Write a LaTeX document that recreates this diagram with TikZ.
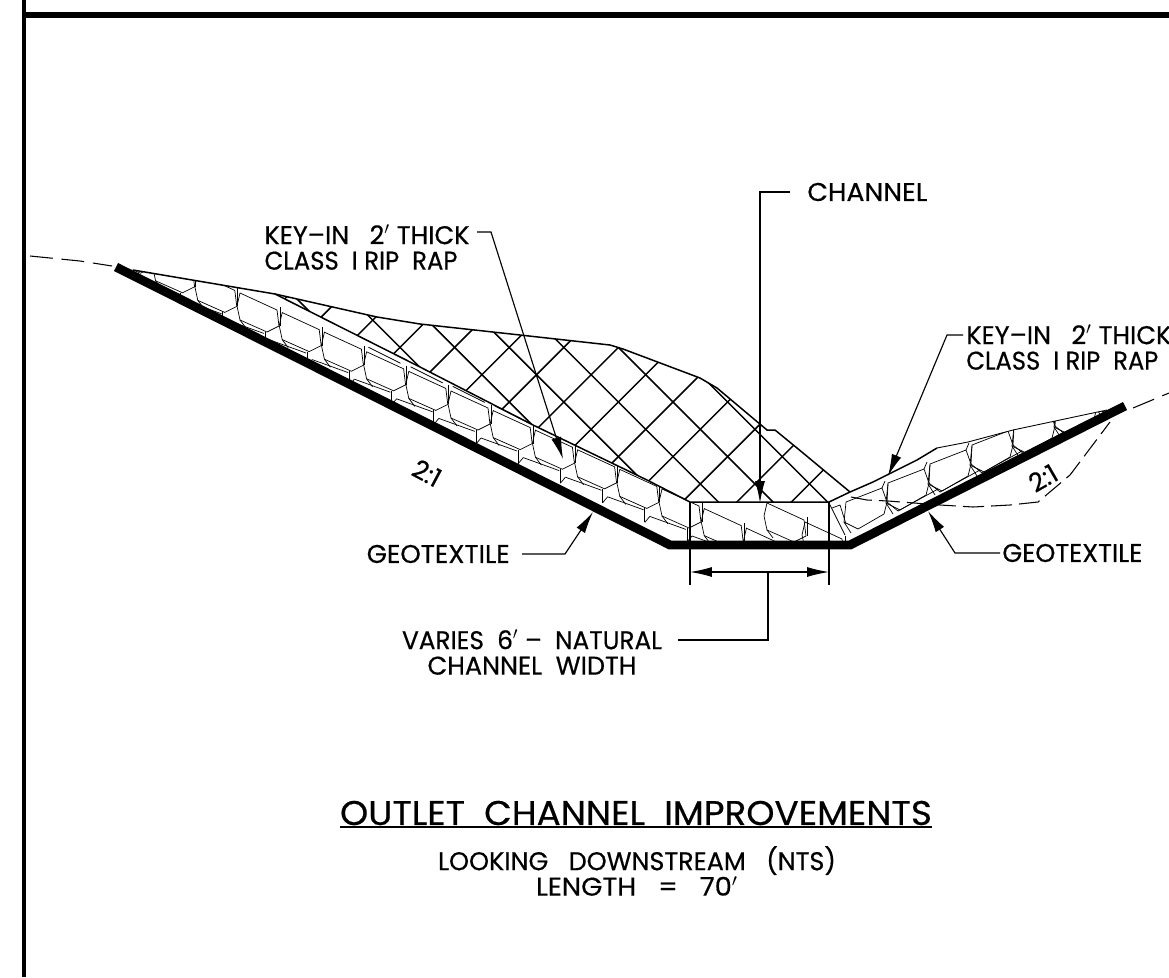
\documentclass[tikz,border=0pt]{standalone}
\usepackage{fontspec}
\setmainfont{Poppins}[FakeBold=0.5]
\usetikzlibrary{arrows.meta, positioning}
\newlength\pxu
\setlength\pxu{0.569pt}
\newcommand{\fitw}[2]{\resizebox{#1\pxu}{\height}{#2}}
\tikzset{
  lbl/.style={font=\fontsize{14.6}{14.5}\selectfont, align=center, inner sep=0pt},
  ttl/.style={font=\fontsize{19.5}{20}\selectfont, inner sep=0pt},
  ldr/.style={line width=0.65pt},
  ptr/.style={line width=0.65pt, -{Latex[length=12.5pt,width=5.7pt]}},
  rock/.style={line width=0.4pt},
  hatchln/.style={line width=0.85pt},
  stoneL/.pic={
    \draw [rock] (0,0) -- (37,17) -- (39,33) -- (27,39) -- (0,27) -- (-3,13) -- cycle;
    \draw [rock] (40,33) -- (40,14);
    \draw [rock] (0,27) -- (6,35);
    \draw [rock] (30,47) -- (66,60);
    \draw [rock] (30,47) -- (25,53);
    \draw [rock] (25,39) -- (25,53);
  },
  stoneR/.pic={
    \draw [rock] (0,0) -- (36,-14) -- (41,0) -- (38,12) -- (12,27) -- (-2,20) -- cycle;
    \draw [rock] (36,-14) -- (39,-21);
    \draw [rock] (41,0) -- (42,-18);
    \draw [rock] (41,0) -- (52,9) -- (92,-13);
    \draw [rock] (-2,20) -- (5,31);
  }
}
\begin{document}
\begin{tikzpicture}[x=0.02cm,y=-0.02cm]
\useasboundingbox (0,0) rectangle (1169,977);
% frame
\fill (22,0) rectangle (26,977);
\fill (22,12) rectangle (1169,18);
% ground
\draw [dash pattern=on 13pt off 5pt, line width=0.6pt] (30,256) -- (80,261) -- (112,266);
\draw [dash pattern=on 13pt off 5pt, line width=0.6pt] (1133,408) -- (1169,393);
\draw [dash pattern=on 12pt off 4pt, line width=0.6pt] (851,497) -- (867,500) -- (888,501) -- (940,505) -- (973,507) -- (1010,505) -- (1038,502) -- (1070,475) -- (1110,422);
% rip rap
\begin{scope}
\clip (118,265) -- (133,270) -- (275,294) -- (420,367) -- (533,425) -- (647,480) -- (690,502) -- (829,502) -- (850,492) -- (873,482) -- (917,460) -- (937,448) -- (968,442) -- (1013,430) -- (1107,410) -- (1125,406) -- (850,545) -- (670,545) -- cycle;
\foreach \k in {-3,...,12}
  \pic at ({240+42.2*\k},{293+19.6*\k}) {stoneL};
\foreach \k in {2,...,9}
  \draw [rock] ({240+42.2*\k+44},{293+19.6*\k+15}) -- ++(32,16);
\pic at (767,503) {stoneL};
\pic at (805,522) {stoneL};
\foreach \k in {0,...,6}
  \pic at ({846+42*\k},{502-19*\k}) {stoneR};
\end{scope}
\draw [rock] (829,503) -- (845,535);
\draw [rock] (832,508) -- (840,505) -- (846,524);
% hatch
\begin{scope}
\clip (275,294) -- (377,317) -- (420,324) -- (520,335) -- (610,345) -- (623,349) -- (700,378) -- (717,388) -- (767,430) -- (775,430) -- (797,448) -- (850,492) -- (829,502) -- (690,502) -- (647,480) -- (533,425) -- (420,367) -- cycle;
\foreach \k in {-5,...,9}
  \draw [hatchln] (200,{200-271+54.6*\k}) -- ++(700,700);
\foreach \k in {-10,...,6}
  \draw [hatchln] (1000,{1075+54.6*\k-1000}) -- ++(-800,800);
\end{scope}
\draw [line width=0.85pt] (133,270) -- (275,294) -- (377,317) -- (420,324) -- (520,335) -- (610,345) -- (623,349) -- (700,378) -- (717,388) -- (767,430) -- (775,430) -- (797,448) -- (850,492);
\draw [line width=0.85pt] (275,294) -- (420,367) -- (533,425) -- (647,480) -- (690,502) -- (829,502) -- (850,492) -- (873,482) -- (917,460) -- (937,448);
\draw [line width=0.5pt] (937,448) -- (968,442) -- (1013,430) -- (1107,410);
% geotextile
\draw [line width=5.1pt] (116,267) -- (670,545) -- (850,545) -- (1125,406);
% labels
\node [lbl, align=left] (keyleft) at (367,247.5) {\fitw{205}{KEY--IN~~~2$'$ THICK}\\\fitw{193}{CLASS~~I RIP~~RAP}};
\node [lbl, align=left, anchor=west] (keyright) at (966,347.5) {\fitw{205}{KEY--IN~~~2$'$ THICK}\\\fitw{192}{CLASS~~I RIP~~RAP}};
\node [lbl, anchor=west] (chan) at (807,192) {\fitw{120}{CHANNEL}};
\node [lbl, anchor=east] (geoleft) at (510,554) {\fitw{143}{GEOTEXTILE}};
\node [lbl, anchor=west] (georight) at (1002,553) {\fitw{140}{GEOTEXTILE}};
\node [lbl] (varies) at (532,652.5) {\fitw{260}{VARIES~~6$'$ -- ~NATURAL}\\\fitw{209}{CHANNEL~~WIDTH}};
\node [lbl, rotate=-28] (slopeleft) at (427,473) {2:1};
\node [lbl, rotate=30] (sloperight) at (1043,478) {2:1};
\node [ttl] (outlet) at (636,813) {\fitw{592}{OUTLET~~CHANNEL~~IMPROVEMENTS}};
\draw [line width=1.1pt] (340,827) -- (932,827);
\node [lbl] (looking) at (637,871) {\fitw{398}{LOOKING~~~DOWNSTREAM~~~(NTS)}\\\fitw{202}{LENGTH~~~=~~~70$'$}};
% leaders
\coordinate (tipkeyl) at (563,459);
\coordinate (tipkeyr) at (888,476);
\coordinate (tipchan) at (760,503);
\coordinate (tipgeol) at (593,512);
\coordinate (tipgeor) at (928,511);
\draw [ptr] (477,232) -- (491,232) -- (tipkeyl);
\draw [ptr] (963,335) -- (947,335) -- (tipkeyr);
\draw [ptr] (chan.west) ++(-17,0) -- (760,192) -- (tipchan);
\draw [ptr] (522,554) -- (565,554) -- (tipgeol);
\draw [ptr] (georight.west) ++(-2,0) -- (955,553) -- (tipgeor);
% dimension
\coordinate (dimleft) at (690,572);
\coordinate (dimright) at (829,572);
\draw [ldr] (690,502) -- (690,585);
\draw [ldr] (829,502) -- (829,585);
\draw [ptr, {Latex[length=12.5pt,width=5.7pt]}-{Latex[length=12.5pt,width=5.7pt]}] (dimleft) -- (dimright);
\draw [ldr] (768,572) -- (768,640) -- (678,640);
\end{tikzpicture}
\end{document}
